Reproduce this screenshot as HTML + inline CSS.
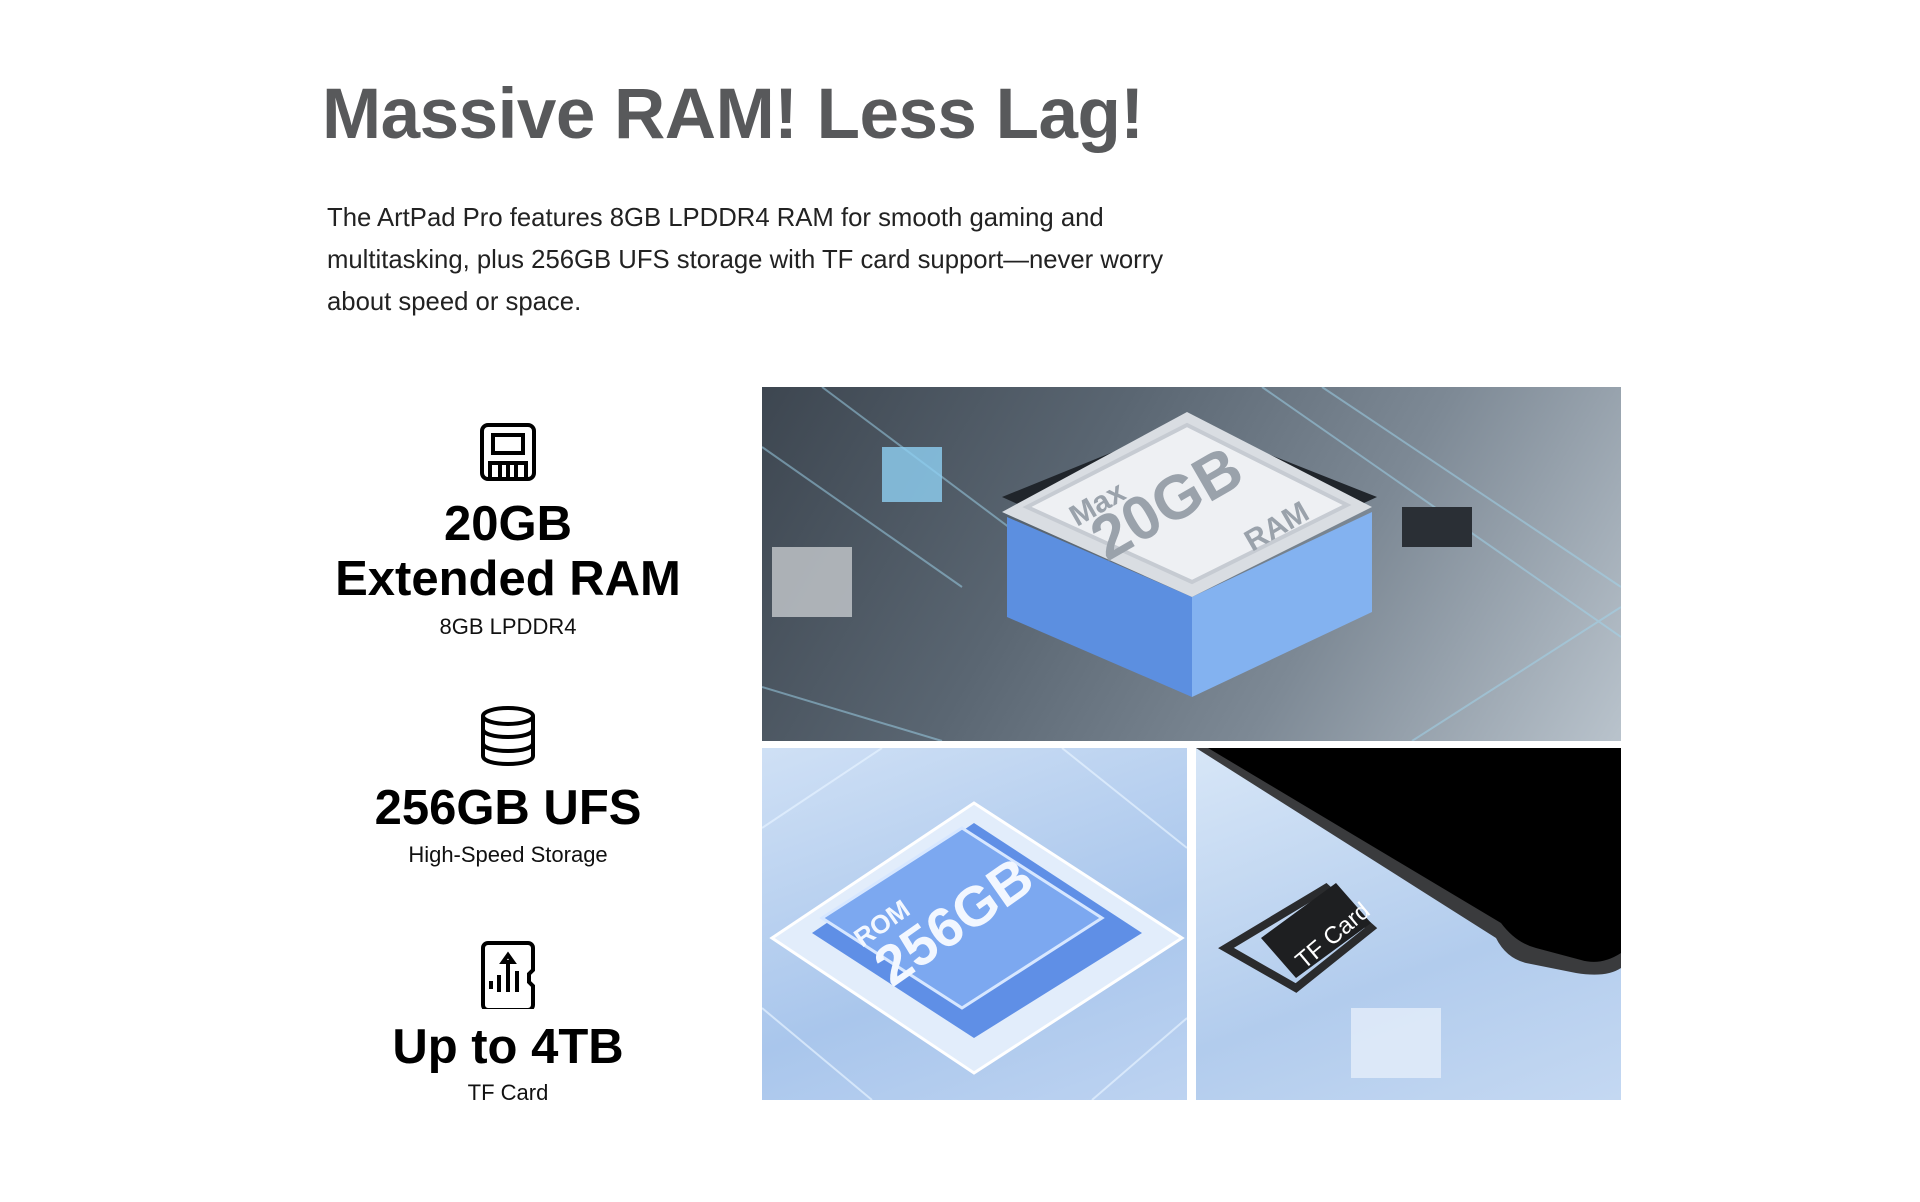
<!DOCTYPE html>
<html><head><meta charset="utf-8"><style>
*{margin:0;padding:0;box-sizing:border-box}
body{width:1920px;height:1202px;background:#fff;position:relative;overflow:hidden;font-family:"Liberation Sans",sans-serif}
.abs{position:absolute}
h1{position:absolute;left:322px;top:74px;font-size:71px;font-weight:bold;color:#58595b;letter-spacing:-0.5px;white-space:nowrap}
.p{position:absolute;left:327px;top:197px;font-size:25.7px;line-height:42px;color:#222;width:900px}
.c{position:absolute;left:308px;width:400px;text-align:center;color:#000}
.big{font-size:49px;font-weight:bold;line-height:55px}
.sm{font-size:22px;line-height:28px;color:#111}
.img{position:absolute;overflow:hidden}
</style></head><body>
<h1>Massive RAM! Less Lag!</h1>
<div class="p">The ArtPad Pro features 8GB LPDDR4 RAM for smooth gaming and multitasking, plus 256GB UFS storage with TF card support—never worry about speed or space.</div>

<svg class="abs" style="left:480px;top:423px" width="56" height="58" viewBox="0 0 56 58"><rect x="2" y="2" width="52" height="54" rx="6" fill="none" stroke="#000" stroke-width="4"/><rect x="13" y="12" width="30" height="18" fill="none" stroke="#000" stroke-width="4"/><path d="M10 56V40h36v16M20 40v16M28 40v16M36 40v16" fill="none" stroke="#000" stroke-width="4"/></svg>
<div class="c big" style="top:497px">20GB<br>Extended RAM</div>
<div class="c sm" style="top:613px">8GB LPDDR4</div>

<svg class="abs" style="left:480px;top:706px" width="56" height="60" viewBox="0 0 56 60"><ellipse cx="28" cy="10" rx="25" ry="8" fill="none" stroke="#000" stroke-width="4"/><path d="M3 10v40c0 5 11 8 25 8s25-3 25-8V10M3 23c0 5 11 8 25 8s25-3 25-8M3 37c0 5 11 8 25 8s25-3 25-8" fill="none" stroke="#000" stroke-width="4"/></svg>
<div class="c big" style="top:781px">256GB UFS</div>
<div class="c sm" style="top:841px">High-Speed Storage</div>

<svg class="abs" style="left:480px;top:941px" width="56" height="68" viewBox="0 0 56 68"><path d="M8 2h40a5 5 0 0 1 5 5v22l-4 4v8l4 4v19a5 5 0 0 1-5 5H8a5 5 0 0 1-5-5V7a5 5 0 0 1 5-5z" fill="none" stroke="#000" stroke-width="4"/><path d="M28 14l-5 7h10zM28 21v30M19 34v17M37 30v21M11 40v8" stroke="#000" stroke-width="4" fill="none"/></svg>
<div class="c big" style="top:1020px">Up to 4TB</div>
<div class="c sm" style="top:1079px">TF Card</div>

<!-- top image -->
<div class="img" style="left:762px;top:387px;width:859px;height:354px;background:linear-gradient(120deg,#3d4650 0%,#5a6672 35%,#7d8995 65%,#b9c3cc 100%)">
<svg width="859" height="354" viewBox="0 0 859 354">
<g stroke="#9fd6ee" stroke-width="2" opacity=".5" fill="none"><path d="M0 60L200 200M60 0L260 150M500 0L859 250M560 0L859 200M0 300L180 354M650 354L859 220"/></g>
<rect x="120" y="60" width="60" height="55" fill="#8fd0f2" opacity=".8"/>
<rect x="10" y="160" width="80" height="70" fill="#c5c9cd" opacity=".8"/>
<rect x="640" y="120" width="70" height="40" fill="#2a2f35"/>
<polygon points="240,110 425,35 615,110 430,195" fill="#20252b"/>
<polygon points="245,130 430,210 430,310 245,230" fill="#5c8fe0"/>
<polygon points="430,210 610,125 610,225 430,310" fill="#83b2f0"/>
<polygon points="240,125 425,25 610,120 430,210" fill="#d9dde2"/>
<polygon points="265,120 425,38 585,118 430,195" fill="#eef0f3" stroke="#c6cbd2" stroke-width="4"/>
<text x="0" y="0" transform="translate(345 175) rotate(-30)" font-size="62" font-weight="bold" fill="#9aa2ab" font-family="Liberation Sans">20GB</text>
<text x="0" y="0" transform="translate(315 140) rotate(-30)" font-size="30" font-weight="bold" fill="#9aa2ab" font-family="Liberation Sans">Max</text>
<text x="0" y="0" transform="translate(490 165) rotate(-30)" font-size="30" font-weight="bold" fill="#9aa2ab" font-family="Liberation Sans">RAM</text>
</svg></div>

<!-- bottom left -->
<div class="img" style="left:762px;top:748px;width:425px;height:352px;background:linear-gradient(160deg,#cfe0f5,#a9c6ec 60%,#bdd3f1)">
<svg width="425" height="352" viewBox="0 0 425 352">
<g stroke="#e6f2ff" stroke-width="2" fill="none" opacity=".7"><path d="M0 80L120 0M300 0L425 100M0 260L110 352M330 352L425 270"/></g>
<polygon points="10,190 212,55 420,190 212,325" fill="#e2edfb" stroke="#fff" stroke-width="3"/>
<polygon points="50,185 212,75 380,185 212,290" fill="#5f8fe6"/>
<polygon points="60,170 200,80 340,170 200,260" fill="#7ca8f0" stroke="#d7e7ff" stroke-width="3"/>
<text x="0" y="0" transform="translate(130 240) rotate(-35)" font-size="56" font-weight="bold" fill="#f2f7ff" font-family="Liberation Sans">256GB</text>
<text x="0" y="0" transform="translate(100 200) rotate(-35)" font-size="26" font-weight="bold" fill="#f2f7ff" font-family="Liberation Sans">ROM</text>
</svg></div>

<!-- bottom right -->
<div class="img" style="left:1196px;top:748px;width:425px;height:352px;background:linear-gradient(160deg,#d7e6f7,#b2cced 60%,#c4d8f2)">
<svg width="425" height="352" viewBox="0 0 425 352">
<path d="M0 0L425 0L425 220Q410 230 380 225L330 215Q310 210 300 190L0 0z" fill="#3a3b3d"/>
<path d="M12 0L425 0L425 205Q405 218 385 212L340 200Q320 195 305 175L12 0z" fill="#000"/>
<path d="M30 200L130 140L175 180L100 240z" fill="none" stroke="#2a2b2d" stroke-width="8"/>
<polygon points="65,190 140,135 175,175 100,230" fill="#1e1f21"/>
<text x="0" y="0" transform="translate(108 222) rotate(-40)" font-size="24" fill="#fff" font-family="Liberation Sans">TF Card</text>
<rect x="155" y="260" width="90" height="70" fill="#e5eefa" opacity=".8"/>
</svg></div>
</body></html>
